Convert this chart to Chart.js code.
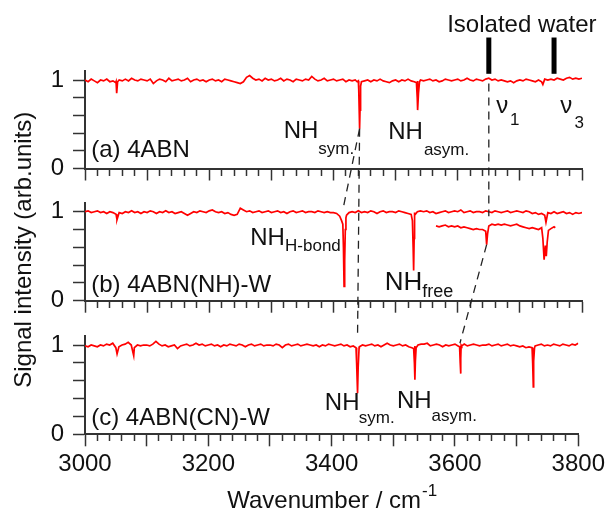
<!DOCTYPE html>
<html>
<head>
<meta charset="utf-8">
<script src="https://cdn.jsdelivr.net/npm/chart.js@4.4.0/dist/chart.umd.min.js"></script>
<style>
    html, body { margin: 0; padding: 0; background: #fff; }
    #wrap { position: relative; width: 609px; height: 514px; }
    #wrap canvas { position: absolute; left: 0; top: 0; }
</style>
</head>
<body>
<div id="wrap">
    <canvas id="panelA" width="609" height="514"></canvas>
    <canvas id="panelB" width="609" height="514"></canvas>
    <canvas id="panelC" width="609" height="514"></canvas>
</div>
<script>
// sampling grid for the three spectra (cm-1)
const wavenumbers = [
    3000, 3005, 3010, 3015, 3020, 3025, 3030, 3035, 3040, 3045,
    3050, 3055, 3060, 3065, 3070, 3075, 3080, 3085, 3090, 3095,
    3100, 3105, 3110, 3115, 3120, 3125, 3130, 3135, 3140, 3145,
    3150, 3155, 3160, 3165, 3170, 3175, 3180, 3185, 3190, 3195,
    3200, 3205, 3210, 3215, 3220, 3225, 3230, 3235, 3240, 3245,
    3250, 3255, 3260, 3265, 3270, 3275, 3280, 3285, 3290, 3295,
    3300, 3305, 3310, 3315, 3320, 3325, 3330, 3335, 3340, 3345,
    3350, 3355, 3360, 3365, 3370, 3375, 3380, 3385, 3390, 3395,
    3400, 3405, 3410, 3415, 3420, 3425, 3430, 3435, 3440, 3445,
    3450, 3455, 3460, 3465, 3470, 3475, 3480, 3485, 3490, 3495,
    3500, 3505, 3510, 3515, 3520, 3525, 3530, 3535, 3540, 3545,
    3550, 3555, 3560, 3565, 3570, 3575, 3580, 3585, 3590, 3595,
    3600, 3605, 3610, 3615, 3620, 3625, 3630, 3635, 3640, 3645,
    3650, 3655, 3660, 3665, 3670, 3675, 3680, 3685, 3690, 3695,
    3700, 3705, 3710, 3715, 3720, 3725, 3730, 3735, 3740, 3745,
    3750, 3755, 3760, 3765, 3770, 3775, 3780, 3785, 3790, 3795,
    3800
];

// (a) 4ABN
const signalA = [
    1.00, 0.98, 1.01, 0.99, 0.97, 1.00, 0.99, 1.01, 0.98, 0.99,
    0.98, 1.00, 0.99, 1.01, 0.99, 1.02, 1.00, 0.99, 1.01, 1.00,
    0.99, 1.01, 0.96, 0.99, 1.01, 1.00, 0.98, 1.02, 0.99, 1.00,
    1.01, 0.99, 1.00, 1.02, 0.98, 1.00, 1.01, 0.99, 1.00, 0.98,
    1.00, 1.01, 0.99, 1.00, 0.98, 1.01, 1.00, 0.99, 0.98, 0.97,
    0.96, 0.98, 1.03, 1.05, 1.02, 1.00, 1.01, 0.99, 1.02, 1.00,
    1.01, 0.99, 1.00, 1.02, 0.99, 1.01, 1.00, 0.98, 1.01, 1.00,
    0.99, 1.01, 1.00, 1.04, 1.01, 0.99, 1.00, 1.02, 0.99, 1.00,
    1.01, 0.99, 1.00, 1.01, 0.98, 1.00, 0.99, 1.00, 0.99, 0.98,
    0.99, 1.00, 0.98, 1.00, 0.99, 1.01, 0.99, 0.98, 0.97, 0.99,
    1.00, 0.98, 1.00, 0.99, 1.01, 0.99, 0.98, 0.99, 1.00, 0.99,
    1.00, 1.01, 0.99, 1.00, 0.98, 0.99, 1.01, 1.00, 0.99, 1.00,
    1.01, 0.99, 1.00, 1.02, 1.00, 0.99, 1.01, 1.00, 0.99, 1.01,
    1.02, 1.00, 1.01, 0.99, 1.00, 0.99, 0.98, 0.99, 0.97, 0.99,
    1.00, 0.99, 1.01, 1.00, 0.99, 0.98, 1.00, 0.98, 1.01, 1.00,
    1.01, 1.00, 1.02, 1.01, 1.00, 1.02, 1.03, 1.01, 1.02, 1.01,
    1.02
];
const dipsA = [
    [3049.5, 0.97], [3051, 0.85], [3052.5, 0.98],
    [3438, 0.98], [3440.6, 0.90], [3441.5, 0.62], [3442, 0.45], [3442.7, 0.66], [3443.6, 0.93],
    [3533.5, 0.97], [3534.8, 0.80], [3535.8, 0.66], [3536.8, 0.85], [3538.5, 0.98],
    [3737, 0.95]
];

// (b) 4ABN(NH)-W
const signalB = [
    1.00, 1.01, 0.99, 1.00, 1.01, 0.99, 1.00, 0.98, 1.00, 0.99,
    0.97, 0.99, 0.98, 1.00, 0.99, 1.01, 0.99, 1.00, 0.98, 1.00,
    0.99, 1.01, 1.00, 0.98, 1.00, 0.99, 1.01, 0.99, 1.00, 0.98,
    0.99, 1.00, 0.98, 0.96, 0.98, 1.00, 0.99, 1.01, 1.00, 0.99,
    1.01, 1.02, 1.00, 0.99, 1.00, 0.98, 0.99, 0.97, 0.96, 0.97,
    1.04, 1.02, 1.00, 1.01, 0.99, 1.00, 1.01, 0.99, 1.00, 1.01,
    0.99, 1.00, 1.01, 0.99, 1.00, 0.98, 1.00, 1.01, 0.99, 1.00,
    1.01, 0.99, 1.00, 1.00, 0.99, 1.01, 1.00, 0.99, 1.00, 0.99,
    0.99, 0.98, 0.95, 0.86, 0.93, 0.99, 1.00, 0.99, 1.01, 0.99,
    1.00, 0.99, 1.01, 1.00, 0.98, 1.00, 1.01, 0.99, 1.00, 1.00,
    0.99, 1.01, 1.00, 0.99, 0.98, 0.97, 0.99, 1.00, 1.01, 1.00,
    1.01, 0.99, 1.00, 0.98, 0.99, 1.00, 1.01, 0.99, 1.00, 1.01,
    1.00, 1.02, 0.99, 1.00, 1.01, 0.99, 1.00, 1.00, 0.99, 1.01,
    1.00, 0.99, 1.01, 1.00, 0.99, 1.00, 1.01, 0.99, 1.00, 1.01,
    1.00, 0.99, 1.01, 1.00, 0.98, 0.99, 0.97, 0.98, 0.96, 0.99,
    0.98, 1.00, 0.98, 0.99, 1.00, 0.98, 0.99, 0.97, 0.99, 0.98,
    0.99
];
const dipsB = [
    [3051.5, 0.91],
    [3413, 0.90], [3416, 0.60], [3417, 0.16], [3418, 0.45], [3419, 0.80], [3421, 0.96],
    [3527, 0.90], [3528.2, 0.60], [3529, 0.34], [3529.8, 0.70], [3531, 0.96],
    [3742, 0.88]
];
// offset trace of 4ABN(NH)-W in the water region
const insetWavenumbers = [
    3565, 3570, 3575, 3580, 3585, 3590, 3595, 3600, 3605, 3610,
    3615, 3620, 3625, 3630, 3635, 3640, 3645, 3646.5, 3648,
    3650, 3655, 3660, 3665, 3670, 3675, 3680, 3685, 3690, 3695, 3700,
    3705, 3710, 3715, 3720, 3725, 3730, 3735,
    3737, 3739, 3741, 3742.5, 3744, 3746, 3750, 3755, 3757
];
const insetSignal = [
    0.84, 0.83, 0.84, 0.85, 0.83, 0.84, 0.83, 0.84, 0.82, 0.83,
    0.82, 0.81, 0.80, 0.81, 0.80, 0.80, 0.78, 0.63, 0.75,
    0.84, 0.86, 0.85, 0.86, 0.85, 0.86, 0.85, 0.84, 0.85, 0.86, 0.84,
    0.83, 0.82, 0.81, 0.82, 0.81, 0.80, 0.82,
    0.70, 0.46, 0.62, 0.50, 0.66, 0.79, 0.81, 0.83, 0.82
];

// (c) 4ABN(CN)-W
const signalC = [
    0.99, 0.98, 1.00, 0.99, 0.98, 1.00, 0.99, 1.01, 1.00, 1.02,
    0.97, 0.98, 1.00, 1.01, 1.03, 1.00, 0.97, 1.00, 0.99, 1.00,
    1.00, 0.99, 1.01, 1.04, 1.01, 0.99, 1.00, 0.98, 0.99, 1.00,
    0.96, 0.99, 1.00, 1.01, 0.99, 1.00, 1.02, 1.00, 1.01, 0.99,
    1.00, 1.01, 0.99, 1.00, 0.98, 1.00, 0.99, 1.01, 1.00, 0.99,
    1.01, 1.00, 0.98, 1.00, 1.01, 0.99, 1.00, 1.01, 0.99, 1.00,
    1.00, 0.99, 1.01, 1.00, 0.97, 1.00, 1.01, 0.99, 1.00, 1.01,
    0.99, 1.00, 1.01, 1.00, 0.99, 1.00, 0.98, 1.00, 0.99, 1.01,
    1.00, 0.99, 1.00, 1.01, 0.99, 1.00, 0.98, 0.99, 0.97, 0.98,
    1.00, 0.99, 1.00, 1.01, 0.99, 1.00, 0.98, 1.00, 1.02, 1.00,
    0.99, 1.00, 1.01, 0.99, 1.00, 0.98, 0.97, 0.99, 1.00, 1.01,
    1.01, 1.02, 0.99, 1.00, 1.01, 1.00, 0.98, 1.00, 0.99, 1.00,
    1.01, 0.99, 1.00, 1.01, 0.99, 1.00, 1.01, 1.00, 0.99, 1.00,
    1.00, 1.01, 0.99, 1.00, 1.01, 0.99, 1.00, 1.01, 0.99, 1.00,
    0.99, 0.98, 0.99, 0.97, 0.98, 0.97, 0.99, 1.00, 1.01, 0.99,
    1.00, 0.99, 1.01, 1.00, 0.99, 1.01, 1.00, 0.99, 1.01, 1.00,
    1.02
];
const dipsC = [
    [3052, 0.90], [3079, 0.88],
    [3439.5, 0.97], [3441, 0.80], [3442, 0.46], [3443, 0.75], [3444.5, 0.97],
    [3533, 0.96], [3534.2, 0.80], [3535, 0.61], [3535.8, 0.82], [3537, 0.97],
    [3607.5, 0.98], [3608.5, 0.80], [3609, 0.68], [3609.7, 0.85], [3611, 0.99],
    [3725.5, 0.97], [3726.5, 0.80], [3727, 0.53], [3727.6, 0.82], [3729, 0.97]
];

// tick positions and labels
const xTickLabels = [3000, 3200, 3400, 3600, 3800];
const yTicks = [0, 0.2, 0.4, 0.6, 0.8, 1];
const yTickLabels = [0, 1];

// dashed guides: [panel, wavenumber, signal] -> [panel, wavenumber, signal]
const guides = [
    [['a', 3650, 0.96], ['b', 3650, 0.95]],
    [['a', 3442, 0.45], ['c', 3442, 1.11]],
    [['a', 3442, 0.45], ['b', 3416.5, 1.07]],
    [['b', 3646.5, 0.63], ['c', 3608, 1.02]]
];
// isolated water bands (nu1, nu3)
const waterBands = [3650, 3755];

// text labels: panel, text, wavenumber, signal (baseline), font size
const labels = [
    ['a', '(a) 4ABN', 3010, 0.133, 24],
    ['a', 'NH', 3319.8, 0.339, 24], ['a', 'sym.', 3375.4, 0.164, 17],
    ['a', 'NH', 3488, 0.333, 24], ['a', 'asym.', 3545.5, 0.153, 17],
    ['a', '\u03bd', 3662, 0.627, 24], ['a', '1', 3684, 0.49, 17],
    ['a', '\u03bd', 3765, 0.627, 24], ['a', '3', 3788, 0.458, 17],
    ['a', 'Isolated water', 3583, 1.546, 24],
    ['b', '(b) 4ABN(NH)-W', 3010, 0.10, 24],
    ['b', 'NH', 3266, 0.626, 24], ['b', 'H-bond', 3322, 0.558, 17],
    ['b', 'NH', 3482.5, 0.115, 26], ['b', 'free', 3543, 0.042, 18],
    ['c', '(c) 4ABN(CN)-W', 3010, 0.104, 24],
    ['c', 'NH', 3389, 0.272, 24], ['c', 'sym.', 3444, 0.132, 17],
    ['c', 'NH', 3506, 0.295, 24], ['c', 'asym.', 3562, 0.149, 17]
];

const FONT = '"Liberation Sans", Arial, Helvetica, sans-serif';
const AXIS = '#333333';
const TEXT = '#111111';
const RED = '#ff0000';

function mergePoints(xs, ys, dips) {
    const pts = xs.map((x, i) => ({ x: x, y: ys[i] }));
    dips.forEach((d) => pts.push({ x: d[0], y: d[1] }));
    pts.sort((p, q) => p.x - q.x);
    return pts;
}

function trace(points) {
    return {
        data: points,
        borderColor: RED,
        borderWidth: 1.7,
        pointRadius: 0,
        tension: 0,
        fill: false
    };
}

// panel plot areas (top / bottom in px)
function makePanel(id, datasets, top, bottom, showXLabels, extraPlugins) {
    return new Chart(document.getElementById(id), {
        type: 'line',
        data: { datasets: datasets },
        options: {
            responsive: false,
            animation: false,
            events: [],
            layout: { padding: { left: 0, right: 27, top: top, bottom: 514 - bottom - 50 } },
            plugins: { legend: { display: false }, tooltip: { enabled: false } },
            scales: {
                x: {
                    type: 'linear',
                    min: 3000,
                    max: 3800,
                    bounds: 'data',
                    afterFit: (s) => { s.height = 50; },
                    border: { display: true, color: AXIS, width: 2 },
                    grid: {
                        drawOnChartArea: false,
                        tickLength: 12,
                        tickColor: AXIS,
                        tickWidth: 1.5,
                        tickBorderDash: (ctx) => (ctx.tick && ctx.tick.value % 100 === 0 ? [] : [6, 40])
                    },
                    ticks: {
                        stepSize: 20,
                        maxTicksLimit: 100,
                        autoSkip: false,
                        maxRotation: 0,
                        padding: 4,
                        color: TEXT,
                        font: { family: FONT, size: 24 },
                        callback: (v) => (showXLabels && xTickLabels.includes(v) ? String(v) : '')
                    }
                },
                y: {
                    type: 'linear',
                    min: 0,
                    max: 1.1,
                    bounds: 'data',
                    afterFit: (s) => { s.width = 85; },
                    afterBuildTicks: (s) => { s.ticks = yTicks.map((v) => ({ value: v })); },
                    border: { display: true, color: AXIS, width: 2 },
                    grid: { drawOnChartArea: false, tickLength: 12, tickColor: AXIS, tickWidth: 1.5 },
                    ticks: {
                        autoSkip: false,
                        padding: 9,
                        color: TEXT,
                        font: { family: FONT, size: 24 },
                        callback: (v) => (yTickLabels.includes(v) ? String(v) : '')
                    }
                }
            }
        },
        plugins: extraPlugins || []
    });
}

const chartA = makePanel('panelA', [trace(mergePoints(wavenumbers, signalA, dipsA))], 71.15, 168.5, false);
const chartB = makePanel('panelB', [
    trace(mergePoints(wavenumbers, signalB, dipsB)),
    trace(mergePoints(insetWavenumbers, insetSignal, []))
], 202.8, 300.7, false);

// annotations drawn on top of everything, positioned through the panels' scales
const annotate = {
    id: 'annotate',
    afterDraw(chart) {
        const panels = { a: chartA, b: chartB, c: chart };
        const pos = (p, wn, v) => [panels[p].scales.x.getPixelForValue(wn), panels[p].scales.y.getPixelForValue(v)];
        const ctx = chart.ctx;
        ctx.save();

        // dashed guides
        ctx.strokeStyle = '#222';
        ctx.lineWidth = 1.3;
        ctx.setLineDash([8, 6]);
        guides.forEach((g) => {
            const p1 = pos(g[0][0], g[0][1], g[0][2]);
            const p2 = pos(g[1][0], g[1][1], g[1][2]);
            ctx.beginPath();
            ctx.moveTo(p1[0], p1[1]);
            ctx.lineTo(p2[0], p2[1]);
            ctx.stroke();
        });
        ctx.setLineDash([]);

        // thick bars for isolated water
        ctx.strokeStyle = '#000';
        ctx.lineWidth = 5;
        waterBands.forEach((wn) => {
            const top = pos('a', wn, 1.48);
            const bot = pos('a', wn, 1.07);
            ctx.beginPath();
            ctx.moveTo(top[0], top[1]);
            ctx.lineTo(bot[0], bot[1]);
            ctx.stroke();
        });

        // labels
        ctx.fillStyle = TEXT;
        ctx.textAlign = 'left';
        ctx.textBaseline = 'alphabetic';
        labels.forEach((l) => {
            const p = pos(l[0], l[2], l[3]);
            ctx.font = l[4] + 'px ' + FONT;
            ctx.fillText(l[1], p[0], p[1]);
        });

        // x axis title with superscript
        const area = chart.chartArea;
        ctx.font = '24px ' + FONT;
        const main = 'Wavenumber / cm';
        const wMain = ctx.measureText(main).width;
        ctx.font = '17px ' + FONT;
        const wSup = ctx.measureText('-1').width;
        const x0 = (area.left + area.right) / 2 - (wMain + wSup) / 2;
        const yBase = area.bottom + 74;
        ctx.font = '24px ' + FONT;
        ctx.fillText(main, x0, yBase);
        ctx.font = '17px ' + FONT;
        ctx.fillText('-1', x0 + wMain + 1, yBase - 12);

        // y axis title, centred over the three panels
        const yMid = (chartA.chartArea.top + area.bottom) / 2 - 3;
        ctx.translate(31, yMid);
        ctx.rotate(-Math.PI / 2);
        ctx.textAlign = 'center';
        ctx.font = '24px ' + FONT;
        ctx.fillText('Signal intensity (arb.units)', 0, 0);
        ctx.restore();
    }
};

const chartC = makePanel('panelC', [trace(mergePoints(wavenumbers, signalC, dipsC))], 336.1, 434.3, true, [annotate]);
</script>
</body>
</html>
